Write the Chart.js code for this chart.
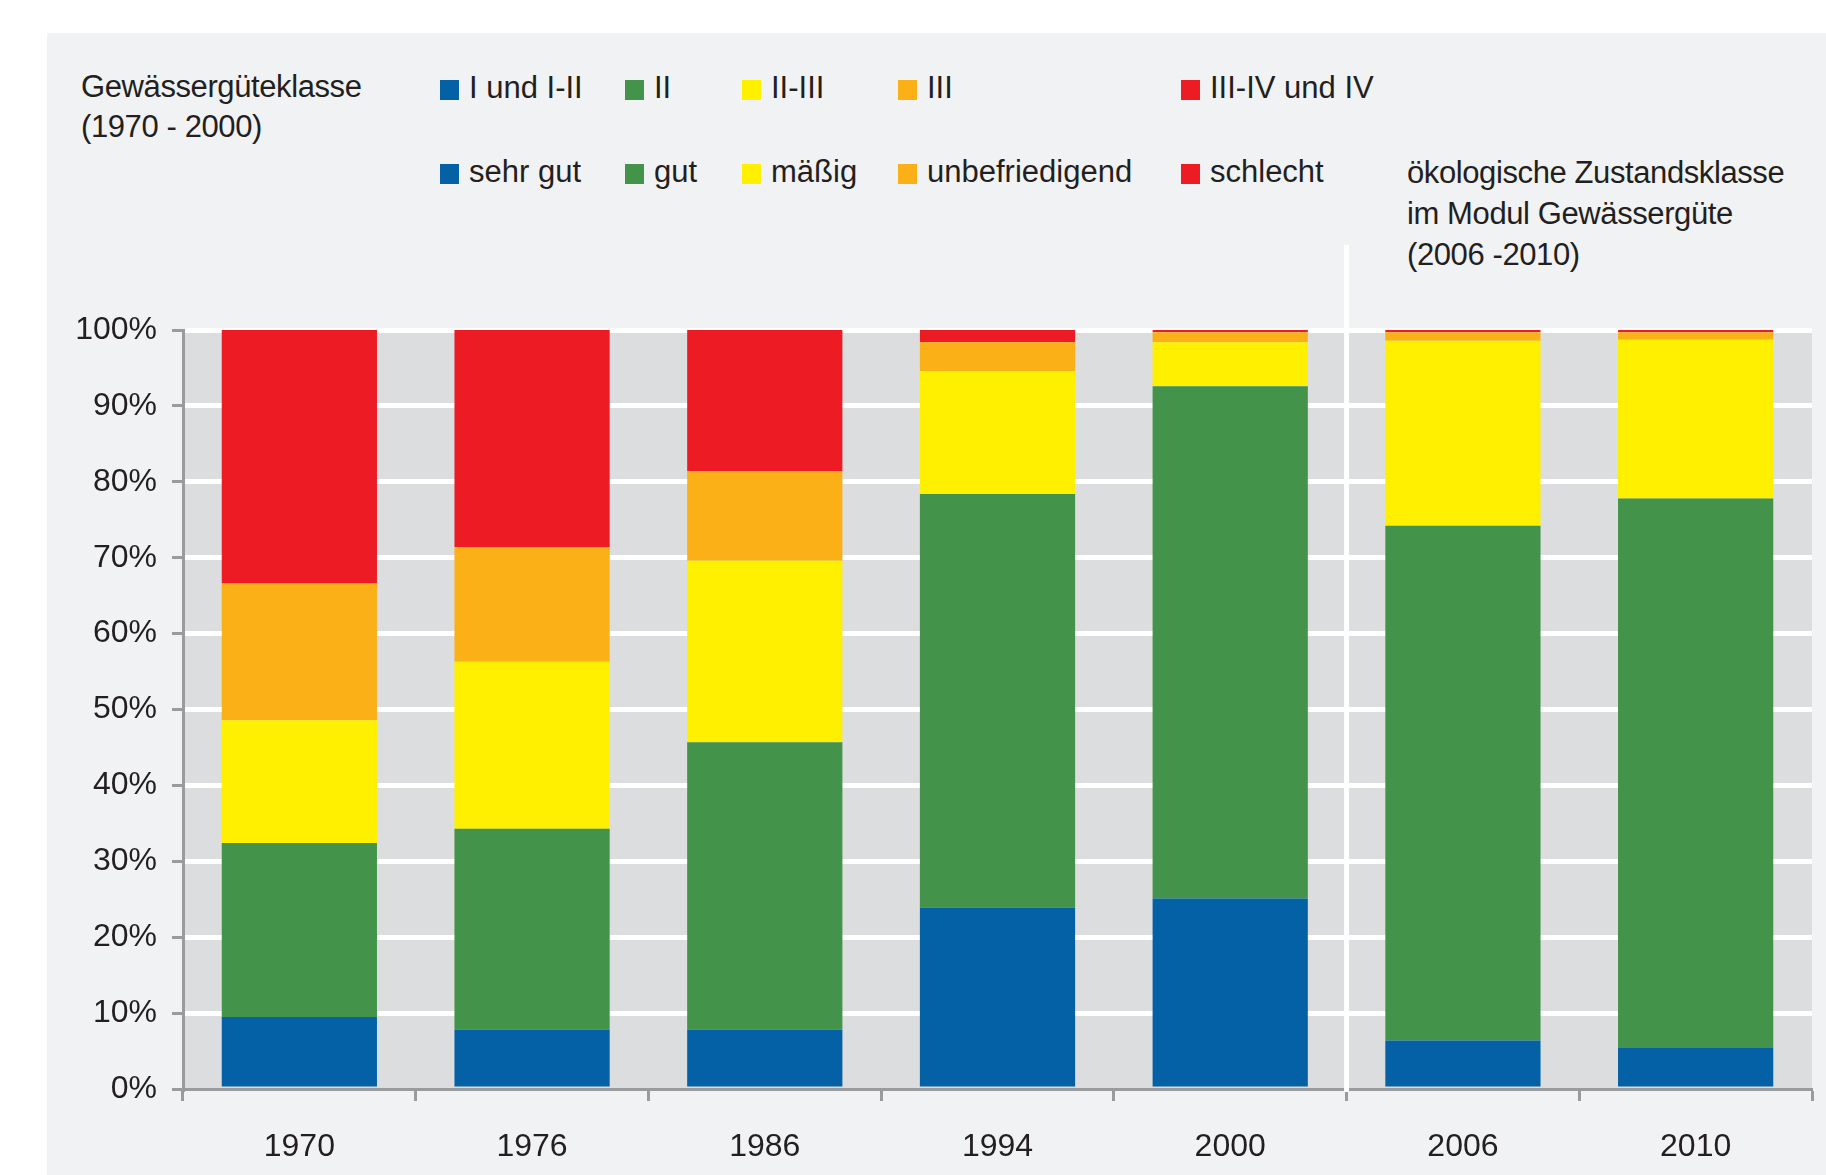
<!DOCTYPE html>
<html lang="de">
<head>
<meta charset="utf-8">
<title>Gewässergüte 1970 - 2010</title>
<script src="https://cdn.jsdelivr.net/npm/chart.js@4/dist/chart.umd.min.js"></script>
<style>
    html, body { margin: 0; padding: 0; background: #fff; }
    body { width: 1826px; height: 1175px; position: relative; overflow: hidden;
           font-family: "Liberation Sans", Arial, sans-serif; color: #231f20; }
    #panel { position: absolute; left: 47px; top: 33px; right: 0; bottom: 0; background: #f1f2f4; }
    .note { position: absolute; font-size: 31px; line-height: 40px; letter-spacing: -0.4px; white-space: nowrap; }
    #title-left { left: 81px; top: 67px; }
    #title-right { left: 1407px; top: 152px; line-height: 41px; }
    .lg-box { position: absolute; width: 19px; height: 20px; }
    .lg-text { position: absolute; font-size: 31px; line-height: 40px; white-space: nowrap; }
    #wrap { position: absolute; left: 0; top: 0; width: 1826px; height: 1175px; }
</style>
</head>
<body>
<div id="panel"></div>
<div class="note" id="title-left">Gewässergüteklasse<br>(1970 - 2000)</div>
<div id="legend"></div>
<div class="note" id="title-right">ökologische Zustandsklasse<br>im Modul Gewässergüte<br>(2006 -2010)</div>
<div id="wrap"><canvas id="chart" width="1826" height="1175"></canvas></div>

<script>
'use strict';

// --- Daten (Anteile in %, von unten nach oben gestapelt) ---
const years = ['1970', '1976', '1986', '1994', '2000', '2006', '2010'];
const labelsGuete = ['I und I-II', 'II', 'II-III', 'III', 'III-IV und IV'];
const labelsZustand = ['sehr gut', 'gut', 'mäßig', 'unbefriedigend', 'schlecht'];
const sehrGut = [9.5, 7.8, 7.8, 23.9, 25.1, 6.4, 5.4];
const gut = [22.9, 26.5, 37.9, 54.5, 67.5, 67.8, 72.4];
const maessig = [16.2, 22.0, 23.9, 16.2, 5.8, 24.4, 20.9];
const unbefriedigend = [18.0, 15.1, 11.8, 3.8, 1.3, 1.1, 1.0];
const schlecht = [33.4, 28.6, 18.6, 1.6, 0.3, 0.3, 0.3];
const yTicks = [0, 10, 20, 30, 40, 50, 60, 70, 80, 90, 100];

const COLORS = ['#0561a6', '#43944a', '#fff000', '#fbb017', '#ed1c24'];
const SERIES = [sehrGut, gut, maessig, unbefriedigend, schlecht];
const TEXT = '#231f20';
const AXIS = '#9a9b9d';
const FONT = '"Liberation Sans", Arial, sans-serif';

// Legende als HTML, zwei Zeilen mit gleichen Farben
const LEGEND_X = [440, 625, 742, 898, 1181];
function buildLegend() {
    const box = document.getElementById('legend');
    const rows = [{ names: labelsGuete, boxTop: 80, textTop: 68 }, { names: labelsZustand, boxTop: 164, textTop: 152 }];
    let html = '';
    rows.forEach(row => {
        row.names.forEach((name, i) => {
            html += `<div class="lg-box" style="left:${LEGEND_X[i]}px;top:${row.boxTop}px;background:${COLORS[i]}"></div>`;
            html += `<div class="lg-text" style="left:${LEGEND_X[i] + 29}px;top:${row.textTop}px">${name}</div>`;
        });
    });
    box.innerHTML = html;
}

// Hintergrund der Zeichenfläche
const plotBackground = {
    id: 'plotBackground',
    beforeDraw(chart) {
        const { ctx, chartArea: a } = chart;
        ctx.save();
        ctx.fillStyle = '#dcdddf';
        ctx.fillRect(a.left, a.top, a.right - a.left, a.bottom - a.top);
        ctx.restore();
    }
};

// weiße Trennlinie zwischen 2000 und 2006
const separator = {
    id: 'separator',
    afterDraw(chart) {
        const x = chart.scales.x;
        const px = (x.getPixelForValue(4) + x.getPixelForValue(5)) / 2;
        const ctx = chart.ctx;
        ctx.save();
        ctx.strokeStyle = '#ffffff';
        ctx.lineWidth = 5;
        ctx.beginPath();
        ctx.moveTo(px, 245);
        ctx.lineTo(px, chart.chartArea.bottom + 3);
        ctx.stroke();
        ctx.restore();
    }
};

function createChart() {
    const ctx = document.getElementById('chart');
    return new Chart(ctx, {
        type: 'bar',
        data: {
            labels: years,
            datasets: SERIES.map((data, i) => ({
                label: labelsZustand[i],
                data,
                backgroundColor: COLORS[i],
                borderWidth: 0,
                barPercentage: 0.667,
                categoryPercentage: 1
            }))
        },
        options: {
            responsive: false,
            animation: false,
            layout: { padding: { top: 330, left: 40, right: 14, bottom: 6 } },
            plugins: { legend: { display: false }, tooltip: { enabled: false } },
            scales: {
                x: {
                    stacked: true,
                    afterFit: (s) => { s.height = 80; },
                    grid: { offset: true, drawOnChartArea: false, tickLength: 12, tickColor: AXIS, tickWidth: 3 },
                    border: { color: AXIS, width: 3 },
                    ticks: { color: TEXT, font: { family: FONT, size: 32 }, padding: 27 }
                },
                y: {
                    stacked: true,
                    min: 0,
                    max: 100,
                    afterFit: (s) => { s.width = 143; },
                    afterBuildTicks: (s) => { s.ticks = yTicks.map(v => ({ value: v })); },
                    grid: {
                        color: (c) => (c.tick && c.tick.value === 0 ? 'rgba(0,0,0,0)' : '#ffffff'),
                        lineWidth: 5,
                        tickLength: 11,
                        tickColor: AXIS,
                        tickWidth: 3
                    },
                    border: { color: AXIS, width: 3 },
                    ticks: { color: TEXT, font: { family: FONT, size: 32 }, padding: 15, callback: (v) => v + '%' }
                }
            }
        },
        plugins: [plotBackground, separator]
    });
}

buildLegend();
createChart();
</script>
</body>
</html>
